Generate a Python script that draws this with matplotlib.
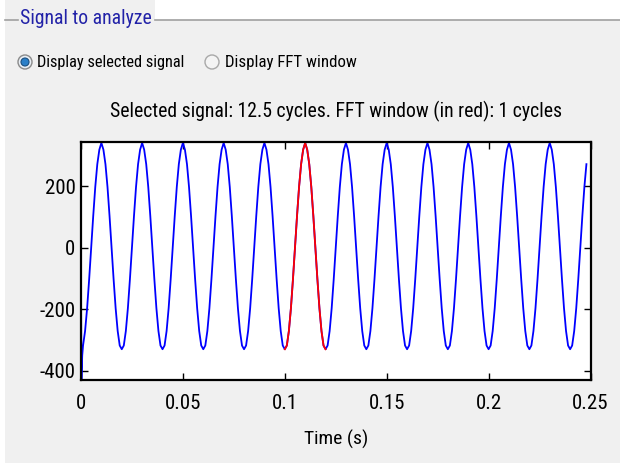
import numpy as np
import matplotlib.pyplot as plt
from matplotlib import font_manager
from matplotlib.patches import Circle, Rectangle

# pick a narrow face if one is installed
names = {f.name for f in font_manager.fontManager.ttflist}
narrow = [n for n in ['Liberation Sans Narrow', 'DejaVu Sans Condensed', 'Roboto Condensed'] if n in names]
plt.rcParams['font.family'] = narrow + ['DejaVu Sans']
plt.rcParams['font.stretch'] = 'condensed'
plt.rcParams['axes.unicode_minus'] = False

# one period of the 50 Hz signal (1 ms samples), starting at a trough
cycle = [-330, -318, -271, -197, -103, 0, 103, 197, 271, 318,
         340, 318, 271, 197, 103, 0, -103, -197, -271, -318]
n_cycles = 13
n_samples = 249      # last sample at 0.248 s
dt = 0.001

# switching transient at the very start
start_t = [0.0, 0.0002, 0.0006]
start_v = [-130, -430, -350]

# FFT window (drawn in red)
fft_start = 0.1
fft_end = 0.12

xticks = [0, 0.05, 0.1, 0.15, 0.2, 0.25]
xticklabels = ['0', '0.05', '0.1', '0.15', '0.2', '0.25']
yticks = [-400, -200, 0, 200]

t = np.concatenate([start_t, np.arange(1, n_samples) * dt])
v = np.concatenate([start_v, np.tile(cycle, n_cycles)[1:n_samples]])
win = (t >= fft_start - 1e-9) & (t <= fft_end + 1e-9)

W, H = 620, 463
fig = plt.figure(figsize=(6.2, 4.63), dpi=100, facecolor='white')

# GUI panel drawn in pixel coords
bg = fig.add_axes([0, 0, 1, 1], zorder=0)
bg.set_xlim(0, W)
bg.set_ylim(H, 0)
bg.axis('off')
bg.add_patch(Rectangle((5, 20), W - 5, H - 20, facecolor='#f0f0f0', edgecolor='none'))
bg.add_patch(Rectangle((5, 0), 150, 20, facecolor='#f0f0f0', edgecolor='none'))
bg.plot([5, 18], [20, 20], color='#a0a0a0', lw=1.2)
bg.plot([155, W], [20, 20], color='#a0a0a0', lw=1.2)

# text sizes: smaller if no narrow face was found
k = 1.0 if narrow else 0.8
bg.text(20, 18, 'Signal to analyze', color='#2222a8', fontsize=14.2 * k, va='center', ha='left')

bg.add_patch(Circle((25, 62), 7, facecolor='#e8eef4', edgecolor='#8a8a8a', lw=1))
bg.add_patch(Circle((25, 62), 4, facecolor='#2a7fc8', edgecolor='#1a4f80', lw=0.8))
bg.text(37, 62, 'Display selected signal', fontsize=11.8 * k, va='center', ha='left')
bg.add_patch(Circle((212, 62), 7, facecolor='#f4f4f4', edgecolor='#a8a8a8', lw=1))
bg.text(225, 62, 'Display FFT window', fontsize=12.2 * k, va='center', ha='left')

ax = fig.add_axes([81 / W, 1 - 380 / H, (590.5 - 81) / W, (380 - 142) / H], zorder=1)
ax.set_facecolor('white')
ax.plot(t, v, color='#0000ff', lw=1.3)
ax.plot(t[win], v[win], color='#ff0000', lw=1.3)

ax.set_xlim(0, 0.25)
ax.set_ylim(-430, 343)
ax.set_xticks(xticks)
ax.set_xticklabels(xticklabels)
ax.set_yticks(yticks)
ax.tick_params(direction='in', top=True, right=True, length=5, width=1,
               labelsize=15 * k)
ax.tick_params(axis='x', pad=10)
ax.tick_params(axis='y', pad=4)
for s in ax.spines.values():
    s.set_linewidth(1.6)

ax.set_title('Selected signal: 12.5 cycles. FFT window (in red): 1 cycles',
             fontsize=14.2 * k, pad=18)
ax.set_xlabel('Time (s)', fontsize=14 * k, labelpad=12)

fig.savefig('out.png', dpi=100, facecolor=fig.get_facecolor())
